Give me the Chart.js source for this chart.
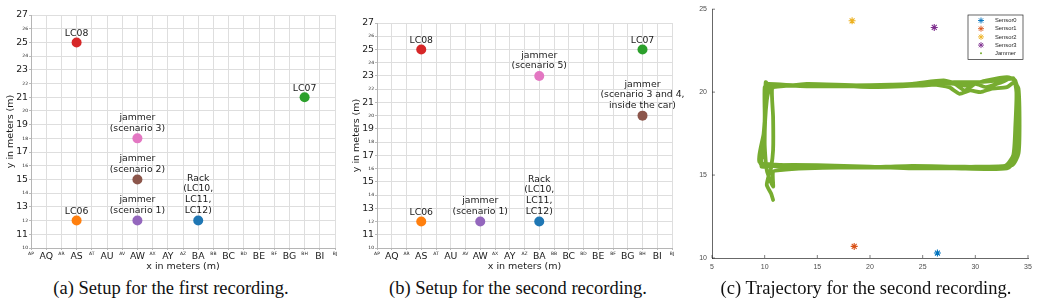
<!DOCTYPE html>
<html>
<head>
<meta charset="utf-8">
<script src="https://cdn.jsdelivr.net/npm/chart.js@4.4.0/dist/chart.umd.min.js"></script>
<style>
  body { margin: 0; background: #fff; width: 1038px; height: 306px; position: relative; overflow: hidden; }
  canvas { position: absolute; top: 0; }
  .cap { position: absolute; top: 278px; font-family: 'Liberation Serif', serif; font-size: 18.5px; color: #111;
         white-space: nowrap; transform: translateX(-50%); }
</style>
</head>
<body>
<canvas id="chartA" width="345" height="272" style="left:0"></canvas>
<canvas id="chartB" width="345" height="272" style="left:345px"></canvas>
<canvas id="chartC" width="348" height="280" style="left:690px"></canvas>
<div class="cap" style="left:171px">(a) Setup for the first recording.</div>
<div class="cap" style="left:518px">(b) Setup for the second recording.</div>
<div class="cap" style="left:866px">(c) Trajectory for the second recording.</div>

<script>
// Column letters used as x tick labels (index 0..20)
const colLetters = ['AP', 'AQ', 'AR', 'AS', 'AT', 'AU', 'AV', 'AW', 'AX', 'AY', 'AZ',
                    'BA', 'BB', 'BC', 'BD', 'BE', 'BF', 'BG', 'BH', 'BI', 'BJ'];
const tabColors = ['#1f77b4', '#ff7f0e', '#2ca02c', '#d62728', '#9467bd', '#8c564b', '#e377c2'];

// (a) first recording
const firstNames = ['Rack\n(LC10,\nLC11,\nLC12)', 'LC06', 'LC07', 'LC08',
                    'jammer\n(scenario 1)', 'jammer\n(scenario 2)', 'jammer\n(scenario 3)'];
const firstX = [11, 3, 18, 3, 7, 7, 7];
const firstY = [12, 12, 21, 25, 12, 15, 18];

// (b) second recording
const secondNames = ['Rack\n(LC10,\nLC11,\nLC12)', 'LC06', 'LC07', 'LC08',
                     'jammer\n(scenario 1)', 'jammer\n(scenario 3 and 4,\ninside the car)', 'jammer\n(scenario 5)'];
const secondX = [11, 3, 18, 3, 7, 18, 11];
const secondY = [12, 12, 25, 25, 12, 20, 23];

// (c) trajectory
const sensorNames = ['Sensor0', 'Sensor1', 'Sensor2', 'Sensor3'];
const sensorX = [26.4, 18.5, 18.3, 26.1];
const sensorY = [10.3, 10.7, 24.3, 23.9];
const sensorColors = ['#0072BD', '#D95319', '#EDB120', '#7E2F8E'];

const jammerX = [10.8, 10.6, 10.2, 10.4, 10.6, 10.8, 10.8, 10.7, 11.2, 14, 18, 22, 26, 28, 30, 32, 33.5, 33.9, 34.0, 34.0, 33.8, 33.2,
                 30, 26, 22, 18, 14.5, 12, 10, 9.6, 9.9, 10.0, 10.0, 10.3, 13, 18, 22, 26, 27.5, 28.5, 29.5, 30.5, 31.5, 33, 33.7,
                 34.1, 34.2, 34.1, 33.5, 30, 25, 20, 15, 11, 9.7, 9.8, 10.1, 10.1, 10.5, 14, 19, 24, 27, 29, 31, 33, 33.8,
                 34.0, 34.1, 33.9, 33, 28, 23, 17, 14, 11.5, 10.8, 10.8,
                 10.2, 10.0, 10.2, 10.6, 15, 20, 25, 28, 29, 30, 31, 32.5, 33.6, 33.9, 33.8, 33.6, 32.8, 29, 24, 19, 14, 12, 9.5, 9.9, 10.2];
const jammerY = [13.5, 13.9, 14.4, 15.0, 15.4, 16.5, 18.5, 20.2, 20.4, 20.35, 20.4, 20.45, 20.5, 20.6, 20.6, 20.7, 20.8, 20.5, 19, 17, 16, 15.5,
                 15.45, 15.45, 15.5, 15.5, 15.55, 15.5, 15.6, 15.7, 16.5, 18.5, 20.3, 20.5, 20.4, 20.35, 20.4, 20.45, 20.3, 19.9, 20.1, 20.0, 20.2, 20.3, 20.6,
                 20.2, 18, 16.3, 15.6, 15.5, 15.4, 15.5, 15.6, 15.6, 15.5, 16.5, 19, 20.6, 20.3, 20.5, 20.4, 20.5, 20.7, 20.4, 20.7, 20.9, 20.7,
                 19.5, 17.5, 16, 15.4, 15.4, 15.45, 15.45, 15.4, 15.3, 15.2, 14.3,
                 15.3, 17, 19.5, 20.3, 20.45, 20.3, 20.4, 20.5, 20.1, 20.5, 20.3, 20.6, 20.85, 20.0, 18, 16.2, 15.55, 15.5, 15.55, 15.45, 15.5, 15.6, 15.8, 17.5, 20.2];

// Labels drawn above each point, bottom of text just above the marker
const pointLabels = {
  id: 'pointLabels',
  afterDatasetsDraw(chart) {
    const ctx = chart.ctx;
    ctx.save();
    ctx.font = '9.3px "DejaVu Sans"';
    ctx.fillStyle = '#1a1a1a';
    ctx.textAlign = 'center';
    ctx.textBaseline = 'alphabetic';
    chart.data.datasets.forEach((ds, i) => {
      const pt = chart.getDatasetMeta(i).data[0];
      const lines = ds.label.split('\n');
      const desc = ctx.measureText(lines[lines.length - 1]).actualBoundingBoxDescent || 0;
      lines.forEach((ln, k) => {
        ctx.fillText(ln, pt.x, pt.y - 6.5 - desc - (lines.length - 1 - k) * 10.8);
      });
    });
    ctx.restore();
  }
};

function setupChart(id, names, xs, ys, padTop, padRight, yWidth, yTitlePad) {
  const datasets = names.map((n, i) => ({
    label: n,
    data: [{ x: xs[i], y: ys[i] }],
    backgroundColor: tabColors[i],
    borderWidth: 0,
    pointRadius: 5
  }));
  const tickFont = (ctx) => ({ family: 'DejaVu Sans', size: ctx.tick && ctx.tick.value % 2 ? 9.3 : 4.5 });
  return new Chart(document.getElementById(id), {
    type: 'scatter',
    data: { datasets },
    plugins: [pointLabels],
    options: {
      responsive: false,
      animation: false,
      layout: { padding: { left: 0, top: padTop, right: padRight, bottom: 0 } },
      plugins: { legend: { display: false }, tooltip: { enabled: false } },
      scales: {
        x: {
          type: 'linear', min: 0, max: 20,
          afterFit: (s) => { s.height = 24; },
          grid: { color: '#dedede', tickLength: 2, tickColor: '#bbb' },
          border: { color: '#b5b5b5' },
          ticks: {
            stepSize: 1, autoSkip: false, maxRotation: 0, padding: 1, color: '#1a1a1a',
            callback: (v) => colLetters[v], font: tickFont
          },
          title: { display: true, text: 'x in meters (m)', color: '#1a1a1a', padding: { top: 1, bottom: 0 },
                   font: { family: 'DejaVu Sans', size: 9.5 } }
        },
        y: {
          min: 10, max: 27,
          afterFit: (s) => { s.width = yWidth; },
          grid: { color: '#dedede', tickLength: 2, tickColor: '#bbb' },
          border: { color: '#b5b5b5' },
          ticks: { stepSize: 1, autoSkip: false, padding: 1, color: '#1a1a1a', font: tickFont },
          title: { display: true, text: 'y in meters (m)', color: '#1a1a1a', padding: { top: yTitlePad, bottom: 0 },
                   font: { family: 'DejaVu Sans', size: 9.5 } }
        }
      }
    }
  });
}

setupChart('chartA', firstNames, firstX, firstY, 15, 10, 31, 5);
setupChart('chartB', secondNames, secondX, secondY, 23, 18, 32, 6);

// MATLAB-like legend box and inward ticks for panel (c)
const matlabDecor = {
  id: 'matlabDecor',
  afterDraw(chart) {
    const ctx = chart.ctx;
    const { x, y } = chart.scales;
    const area = chart.chartArea;
    ctx.save();
    ctx.strokeStyle = '#262626';
    ctx.lineWidth = 0.6;
    x.ticks.forEach((t) => {
      const px = x.getPixelForValue(t.value);
      ctx.beginPath(); ctx.moveTo(px, area.bottom); ctx.lineTo(px, area.bottom - 3); ctx.stroke();
    });
    y.ticks.forEach((t) => {
      const py = y.getPixelForValue(t.value);
      ctx.beginPath(); ctx.moveTo(area.left, py); ctx.lineTo(area.left + 3, py); ctx.stroke();
    });
    // legend
    const bx = 278, by = 15, bw = 55, bh = 44.5;
    ctx.fillStyle = '#fff';
    ctx.fillRect(bx, by, bw, bh);
    ctx.lineWidth = 0.7;
    ctx.strokeRect(bx, by, bw, bh);
    ctx.font = '5.8px "Liberation Sans"';
    ctx.textBaseline = 'middle';
    ctx.textAlign = 'left';
    const names = sensorNames.concat(['Jammer']);
    names.forEach((n, i) => {
      const ly = by + 5.5 + i * 8.2;
      if (i < sensorNames.length) {
        ctx.strokeStyle = sensorColors[i];
        ctx.lineWidth = 0.9;
        Chart.helpers.drawPoint(ctx, { pointStyle: 'star', radius: 3, borderWidth: 0.9 }, bx + 13, ly);
      } else {
        ctx.fillStyle = '#77AC30';
        ctx.beginPath(); ctx.arc(bx + 13, ly, 1, 0, Math.PI * 2); ctx.fill();
      }
      ctx.fillStyle = '#262626';
      ctx.fillText(n, bx + 27, ly);
    });
    ctx.restore();
  }
};

const sensorSets = sensorNames.map((n, i) => ({
  label: n,
  data: [{ x: sensorX[i], y: sensorY[i] }],
  pointStyle: 'star',
  pointRadius: 3.5,
  borderColor: sensorColors[i],
  backgroundColor: sensorColors[i],
  borderWidth: 1.1
}));
const jammerSet = {
  label: 'Jammer',
  data: jammerX.map((v, i) => ({ x: v, y: jammerY[i] })),
  showLine: true,
  borderColor: '#77AC30',
  backgroundColor: '#77AC30',
  borderWidth: 3.8,
  borderJoinStyle: 'round',
  borderCapStyle: 'round',
  pointRadius: 0,
  tension: 0.2
};

new Chart(document.getElementById('chartC'), {
  type: 'scatter',
  data: { datasets: sensorSets.concat([jammerSet]) },
  plugins: [matlabDecor],
  options: {
    responsive: false,
    animation: false,
    layout: { padding: { left: 0, top: 9, right: 10, bottom: 0 } },
    plugins: { legend: { display: false }, tooltip: { enabled: false } },
    scales: {
      x: {
        type: 'linear', min: 5, max: 35,
        afterFit: (s) => { s.height = 22; },
        grid: { display: false, drawTicks: false },
        border: { color: '#262626', width: 0.7 },
        ticks: { stepSize: 5, padding: 5, color: '#4d4d4d', font: { family: 'Liberation Sans', size: 7 } }
      },
      y: {
        min: 10, max: 25,
        afterFit: (s) => { s.width = 22; },
        grid: { display: false, drawTicks: false },
        border: { color: '#262626', width: 0.7 },
        ticks: { stepSize: 5, padding: 5, color: '#4d4d4d', font: { family: 'Liberation Sans', size: 7 } }
      }
    }
  }
});
</script>
</body>
</html>
